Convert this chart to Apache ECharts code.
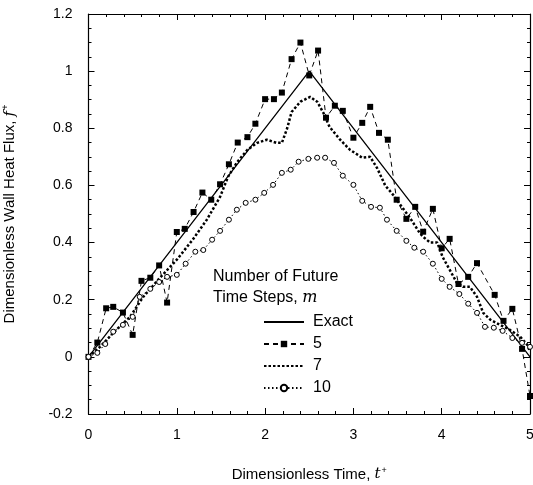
<!DOCTYPE html>
<html>
<head>
<meta charset="utf-8">
<script src="https://cdn.jsdelivr.net/npm/echarts@6/dist/echarts.min.js"></script>
<style>
  html, body { margin: 0; padding: 0; background: #fff; }
  #chart { width: 533px; height: 485px; }
</style>
</head>
<body>
<div id="chart"></div>
<script>
// exact solution (triangle)
const exactT = [0, 2.5, 5]
const exactF = [0, 1, 0]

// m = 5
const m5T = [0, 0.1, 0.2, 0.28, 0.39, 0.5, 0.6, 0.7, 0.8, 0.89, 1.0, 1.09, 1.19, 1.29, 1.39, 1.49, 1.59, 1.69, 1.8, 1.89,
  2.0, 2.1, 2.19, 2.3, 2.4, 2.5, 2.6, 2.69, 2.79, 2.88, 3.0, 3.1, 3.19, 3.29, 3.39, 3.49, 3.6, 3.7, 3.79, 3.9,
  4.0, 4.09, 4.19, 4.3, 4.4, 4.6, 4.7, 4.8, 4.91, 5.0]
const m5F = [0, 0.05, 0.17, 0.175, 0.155, 0.077, 0.266, 0.277, 0.32, 0.19, 0.437, 0.448, 0.507, 0.575, 0.55, 0.604, 0.674, 0.75, 0.769, 0.816,
  0.902, 0.902, 0.925, 1.042, 1.1, 0.985, 1.072, 0.837, 0.879, 0.861, 0.767, 0.819, 0.875, 0.784, 0.76, 0.55, 0.483, 0.525, 0.438, 0.518,
  0.38, 0.413, 0.255, 0.28, 0.328, 0.217, 0.126, 0.168, 0.028, -0.137]

// m = 7
const m7T = [0, 0.13, 0.28, 0.47, 0.62, 0.81, 1.0, 1.18, 1.34, 1.49, 1.58, 1.68, 1.8, 1.91, 2.02, 2.13, 2.19, 2.25, 2.3, 2.4,
  2.51, 2.59, 2.66, 2.73, 2.85, 2.96, 3.1, 3.19, 3.27, 3.36, 3.45, 3.56, 3.64, 3.75, 3.79, 3.87, 3.95, 4.01, 4.09, 4.17,
  4.24, 4.32, 4.4, 4.47, 4.55, 4.66, 4.77, 4.89, 4.97, 5.0]
const m7F = [0, 0.035, 0.084, 0.14, 0.21, 0.277, 0.34, 0.41, 0.48, 0.56, 0.63, 0.68, 0.725, 0.749, 0.76, 0.749, 0.749, 0.8, 0.857, 0.893,
  0.91, 0.893, 0.854, 0.805, 0.76, 0.725, 0.697, 0.7, 0.66, 0.6, 0.567, 0.52, 0.487, 0.434, 0.42, 0.4, 0.4, 0.35, 0.305, 0.26,
  0.245, 0.245, 0.21, 0.154, 0.13, 0.112, 0.095, 0.07, 0.042, 0.018]

// m = 10
const m10T = [0, 0.1, 0.19, 0.28, 0.39, 0.5, 0.58, 0.7, 0.8, 0.89, 1.0, 1.1, 1.21, 1.3, 1.4, 1.49, 1.59, 1.68, 1.78, 1.89,
  1.99, 2.09, 2.19, 2.29, 2.38, 2.49, 2.59, 2.68, 2.78, 2.88, 3.0, 3.1, 3.2, 3.3, 3.38, 3.49, 3.6, 3.69, 3.79, 3.9,
  4.0, 4.09, 4.2, 4.3, 4.4, 4.49, 4.59, 4.69, 4.8, 4.91, 5.0]
const m10F = [0, 0.014, 0.045, 0.088, 0.112, 0.14, 0.21, 0.238, 0.262, 0.28, 0.287, 0.326, 0.368, 0.374, 0.41, 0.441, 0.48, 0.515, 0.539, 0.55,
  0.574, 0.602, 0.644, 0.655, 0.683, 0.693, 0.697, 0.697, 0.679, 0.634, 0.602, 0.546, 0.525, 0.522, 0.48, 0.441, 0.406, 0.382, 0.368, 0.326,
  0.273, 0.245, 0.22, 0.186, 0.154, 0.105, 0.102, 0.091, 0.066, 0.049, 0.035]

const zip = (xs, ys) => xs.map((x, i) => [x, ys[i]])
const font = 'Liberation Sans, Arial, sans-serif'

const chart = echarts.init(document.getElementById('chart'))

const baseX = {
  type: 'value', min: 0, max: 5, interval: 1,
  axisLine: { show: true, onZero: false, lineStyle: { color: '#000', width: 1.2 } },
  axisTick: { inside: true, length: 6, lineStyle: { color: '#000' } },
  minorTick: { show: true, splitNumber: 5, length: 3, lineStyle: { color: '#000' } },
  splitLine: { show: false },
}
const baseY = {
  type: 'value', min: -0.2, max: 1.2, interval: 0.2,
  axisLine: { show: true, onZero: false, lineStyle: { color: '#000', width: 1.2 } },
  axisTick: { show: true, inside: true, length: 6, lineStyle: { color: '#000' } },
  minorTick: { show: true, splitNumber: 4, length: 3, lineStyle: { color: '#000' } },
  splitLine: { show: false },
}

const nameStyle = {
  color: '#000', fontSize: 15, fontFamily: font,
  rich: {
    i: { fontStyle: 'italic', fontSize: 15, fontFamily: 'DejaVu Serif' },
    s: { fontSize: 9, verticalAlign: 'top', padding: [0, 0, 8, 1] },
  },
}

const option = {
  animation: false,
  textStyle: { fontFamily: font },
  grid: { left: 88.5, right: 3, top: 14, bottom: 71, outerBoundsMode: 'none', containLabel: false },
  xAxis: [
    Object.assign({}, baseX, {
      position: 'bottom',
      axisLabel: { color: '#000', fontSize: 14, margin: 14, fontFamily: font },
      name: 'Dimensionless Time, {i|t}{s|+}',
      nameLocation: 'middle',
      nameGap: 52,
      nameTextStyle: nameStyle,
    }),
    Object.assign({}, baseX, { position: 'top', axisLabel: { show: false } }),
  ],
  yAxis: [
    Object.assign({}, baseY, {
      position: 'left',
      axisLabel: { color: '#000', fontSize: 14, margin: 16, fontFamily: font },
      name: 'Dimensionless Wall Heat Flux, {i|f}{s|+}',
      nameLocation: 'middle',
      nameGap: 70,
      nameTextStyle: nameStyle,
    }),
    Object.assign({}, baseY, { position: 'right', axisLabel: { show: false } }),
  ],
  legend: {
    orient: 'vertical',
    left: 263,
    top: 314,
    padding: 0,
    itemWidth: 40,
    itemHeight: 8,
    itemGap: 6,
    textStyle: { color: '#000', fontSize: 16, fontFamily: font, padding: [0, 0, 0, 4] },
    data: [
      { name: 'Exact', itemStyle: { opacity: 0 } },
      '5',
      { name: '7', itemStyle: { opacity: 0 } },
      '10',
    ],
  },
  graphic: [
    {
      type: 'text', left: 213, top: 266,
      style: {
        text: 'Number of Future\nTime Steps, {i|m}',
        fill: '#000', font: '16px ' + font, lineHeight: 21,
        rich: { i: { fontStyle: 'italic', fontSize: 16, fontFamily: 'DejaVu Serif', fill: '#000' } },
      },
    },
  ],
  series: [
    {
      name: 'Exact', type: 'line', data: zip(exactT, exactF),
      symbol: 'none', lineStyle: { color: '#000', width: 1.3 }, itemStyle: { color: '#000' },
    },
    {
      name: '5', type: 'line', data: zip(m5T, m5F),
      symbol: 'rect', symbolSize: 6,
      lineStyle: { color: '#000', width: 1, type: [5, 4] },
      itemStyle: { color: '#000' },
    },
    {
      name: '7', type: 'line', data: zip(m7T, m7F),
      symbol: 'none',
      lineStyle: { color: '#000', width: 2.5, type: [2.5, 2] },
      itemStyle: { color: '#000' },
    },
    {
      name: '10', type: 'line', data: zip(m10T, m10F),
      symbol: 'circle', symbolSize: 5, showAllSymbol: true,
      lineStyle: { color: '#000', width: 1, type: [1.5, 2.5] },
      itemStyle: { color: '#fff', borderColor: '#000', borderWidth: 1 },
    },
  ],
}

chart.setOption(option)
</script>
</body>
</html>
